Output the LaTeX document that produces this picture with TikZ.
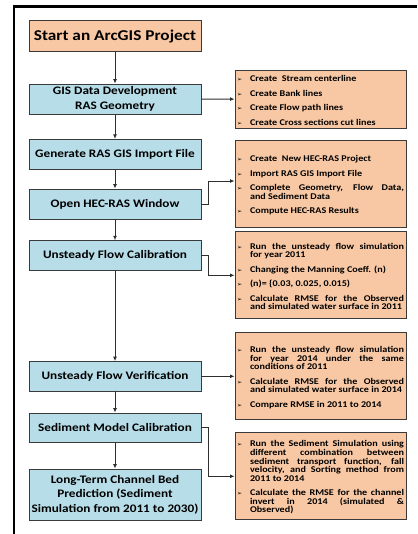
\documentclass[tikz,border=0pt]{standalone}
\usepackage{fontspec}
\setmainfont{Carlito}[FakeStretch=1.15]
\newfontfamily\symfont{DejaVu Sans}
\usetikzlibrary{arrows.meta,calc}
\definecolor{peach}{HTML}{F8C8A4}
\definecolor{lblue}{HTML}{B7DDE8}
\definecolor{edgec}{HTML}{3A3A3A}
\definecolor{linec}{HTML}{2E2E2E}
\newcommand\bitem[1]{\par\hangindent=13pt\hangafter=1\noindent\makebox[13pt][l]{\symfont\fontsize{6}{6}\selectfont ➢}#1\par}
\newcommand\bgap{\vskip 5.8pt}
\tikzset{
  bluebox/.style={draw=edgec, line width=0.9pt, fill=lblue, minimum width=172pt, align=center,
    font=\fontsize{11.5}{14.5}\selectfont\bfseries, inner sep=2pt},
  startbox/.style={draw=edgec, line width=0.9pt, fill=peach, minimum width=172pt, minimum height=31pt,
    font=\fontsize{15}{17}\selectfont\bfseries, inner sep=2pt},
  notebox/.style={draw=edgec, line width=1pt, fill=peach, text width=167pt, align=justify,
    minimum width=171pt, font=\fontsize{8.8}{8.6}\selectfont\bfseries, inner sep=2pt},
  arr/.style={draw=linec, line width=0.9pt, -{Latex[length=4.5pt,width=4pt]}}
}
\begin{document}
\begin{tikzpicture}[x=1pt,y=1pt]
\useasboundingbox (0,0) rectangle (417,-534);
\fill[white] (0,0) rectangle (417,-534);
\draw[line width=2.4pt,black] (14,-534) -- (14,-6.7) -- (417,-6.7);

\node[startbox] (start) at (115,-36.4) {Start an ArcGIS Project};
\node[bluebox, minimum height=30pt] (gis) at (115,-99) {GIS Data Development\\RAS Geometry};
\node[bluebox, minimum height=30pt] (gen) at (115,-154.3) {Generate RAS GIS Import File};
\node[bluebox, minimum height=30pt] (open) at (115,-204) {Open HEC-RAS Window};
\node[bluebox, minimum height=30pt] (cal) at (115,-255.7) {Unsteady Flow Calibration};
\node[bluebox, minimum height=29.3pt] (ver) at (115,-376.3) {Unsteady Flow Verification};
\node[bluebox, minimum height=29pt] (sed) at (115,-427.5) {Sediment Model Calibration};
\node[bluebox, minimum height=51pt] (lt) at (115,-494.5) {Long-Term Channel Bed\\Prediction (Sediment\\Simulation from 2011 to 2030)};

\node[notebox, minimum height=58pt] (r1) at (320.5,-99.2) {%
\bitem{Create\ \ Stream centerline}\bgap
\bitem{Create Bank lines}\bgap
\bitem{Create Flow path lines}\bgap
\bitem{Create Cross sections cut lines}};

\node[notebox, minimum height=86.6pt] (r2) at (320.5,-184) {%
\bitem{Create\ \ New HEC-RAS Project}\bgap
\bitem{Import RAS GIS Import File}\bgap
\bitem{Complete Geometry, Flow Data,\linebreak and Sediment Data}\bgap
\bitem{Compute HEC-RAS Results}};

\node[notebox, minimum height=87.3pt] (r3) at (320.5,-275.3) {%
\bitem{Run the unsteady flow simulation\linebreak for year 2011}\bgap
\bitem{Changing the Manning Coeff. (n)}\bgap
\bitem{(n)= \{0.03, 0.025, 0.015)}\bgap
\bitem{Calculate RMSE for the Observed\linebreak and simulated water surface in 2011}};

\node[notebox, minimum height=87.3pt] (r4) at (320.5,-376.3) {%
\bitem{Run the unsteady flow simulation\linebreak for year 2014 under the same\linebreak conditions of 2011}\bgap
\bitem{Calculate RMSE for the Observed\linebreak and simulated water surface in 2014}\bgap
\bitem{Compare RMSE in 2011 to 2014}};

\node[notebox, minimum height=87.3pt] (r5) at (320.5,-476.3) {%
\bitem{Run the Sediment Simulation using\linebreak different combination between\linebreak sediment transport function, fall\linebreak velocity, and Sorting method from\linebreak 2011 to 2014}\bgap
\bitem{Calculate the RMSE for the channel\linebreak invert in 2014 (simulated \&\linebreak Observed)}};

\draw[arr] (start) -- (gis);
\draw[arr] (gis) -- (gen);
\draw[arr] (gen) -- (open);
\draw[arr] (open) -- (cal);
\draw[arr] (cal) -- (ver);
\draw[arr] (ver) -- (sed);
\draw[arr] (sed) -- (lt);

\draw[arr] (gis) -- (r1);
\draw[arr] (open.east) -- ++(6.5,0) |- ([yshift=3pt]r2.west);
\draw[arr] (cal.east) -- ++(6.5,0) |- (r3.west);
\draw[arr] (ver) -- (r4);
\draw[arr] (sed.east) -- ++(7,0) |- (r5.west);
\end{tikzpicture}
\end{document}
